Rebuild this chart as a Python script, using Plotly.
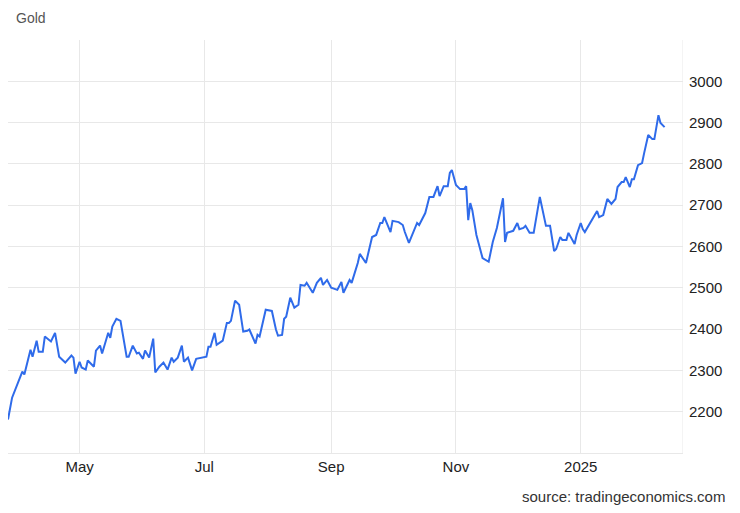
import plotly.graph_objects as go

dates = [
    "2024-03-27", "2024-03-29", "2024-04-03", "2024-04-04", "2024-04-07", "2024-04-08",
    "2024-04-10", "2024-04-11", "2024-04-13", "2024-04-14", "2024-04-17", "2024-04-19",
    "2024-04-21", "2024-04-24", "2024-04-27", "2024-04-28", "2024-04-29",
    "2024-05-01", "2024-05-02", "2024-05-04", "2024-05-05", "2024-05-08", "2024-05-09",
    "2024-05-11", "2024-05-12", "2024-05-15", "2024-05-16", "2024-05-17", "2024-05-19",
    "2024-05-21", "2024-05-24", "2024-05-25", "2024-05-27", "2024-05-29", "2024-05-30",
    "2024-06-01", "2024-06-02", "2024-06-04", "2024-06-06", "2024-06-07", "2024-06-09",
    "2024-06-11", "2024-06-13", "2024-06-15", "2024-06-16", "2024-06-18", "2024-06-20",
    "2024-06-21", "2024-06-23", "2024-06-25", "2024-06-27", "2024-06-30",
    "2024-07-02", "2024-07-03", "2024-07-04", "2024-07-06", "2024-07-07", "2024-07-10",
    "2024-07-12", "2024-07-13", "2024-07-14", "2024-07-16", "2024-07-18", "2024-07-20",
    "2024-07-22", "2024-07-23", "2024-07-26", "2024-07-27", "2024-07-28", "2024-07-31",
    "2024-08-03", "2024-08-05", "2024-08-06", "2024-08-08", "2024-08-09", "2024-08-10",
    "2024-08-12", "2024-08-14", "2024-08-16", "2024-08-17", "2024-08-19", "2024-08-20",
    "2024-08-23", "2024-08-25", "2024-08-27", "2024-08-28", "2024-08-30",
    "2024-09-01", "2024-09-04", "2024-09-06", "2024-09-07", "2024-09-10", "2024-09-11",
    "2024-09-14", "2024-09-15", "2024-09-18", "2024-09-21", "2024-09-23", "2024-09-25",
    "2024-09-26", "2024-09-27", "2024-09-30",
    "2024-10-01", "2024-10-04", "2024-10-06", "2024-10-07", "2024-10-09", "2024-10-13",
    "2024-10-14", "2024-10-17", "2024-10-19", "2024-10-21", "2024-10-23", "2024-10-24",
    "2024-10-26", "2024-10-28", "2024-10-29", "2024-10-30",
    "2024-11-01", "2024-11-03", "2024-11-05", "2024-11-06", "2024-11-07", "2024-11-08",
    "2024-11-09", "2024-11-11", "2024-11-14", "2024-11-17", "2024-11-19", "2024-11-21",
    "2024-11-22", "2024-11-24", "2024-11-25", "2024-11-26", "2024-11-29",
    "2024-12-01", "2024-12-02", "2024-12-04", "2024-12-05", "2024-12-07", "2024-12-09",
    "2024-12-11", "2024-12-12", "2024-12-15", "2024-12-17", "2024-12-19", "2024-12-20",
    "2024-12-22", "2024-12-23", "2024-12-25", "2024-12-26", "2024-12-29", "2024-12-30",
    "2025-01-01", "2025-01-02", "2025-01-03", "2025-01-05", "2025-01-07", "2025-01-09",
    "2025-01-10", "2025-01-12", "2025-01-14", "2025-01-16", "2025-01-18", "2025-01-19",
    "2025-01-21", "2025-01-22", "2025-01-23", "2025-01-25", "2025-01-26", "2025-01-27",
    "2025-01-29", "2025-01-31",
    "2025-02-01", "2025-02-03", "2025-02-05", "2025-02-06", "2025-02-08", "2025-02-09",
    "2025-02-11",
]

gold = [
    2181, 2234, 2297, 2290, 2350, 2333,
    2372, 2345, 2345, 2382, 2370, 2391,
    2333, 2319, 2336, 2331, 2292,
    2321, 2307, 2302, 2324, 2309, 2348,
    2360, 2341, 2391, 2379, 2406, 2425,
    2420, 2333, 2333, 2360, 2341, 2343,
    2328, 2348, 2331, 2377, 2295, 2309,
    2319, 2302, 2331, 2321, 2331, 2360,
    2321, 2331, 2300, 2328, 2331,
    2333, 2357, 2357, 2391, 2362, 2372,
    2415, 2415, 2420, 2469, 2459, 2394,
    2396, 2399, 2365, 2386, 2382, 2447,
    2444, 2399, 2384, 2386, 2425, 2430,
    2476, 2452, 2459, 2507, 2505, 2512,
    2488, 2512, 2524, 2507, 2519,
    2500, 2495, 2514, 2488, 2519, 2512,
    2560, 2582, 2560, 2623, 2628, 2657,
    2657, 2671, 2635,
    2662, 2659, 2652, 2635, 2609, 2657,
    2652, 2681, 2720, 2720, 2746, 2722,
    2746, 2746, 2778, 2785,
    2749, 2739, 2739, 2746, 2664, 2705,
    2688, 2628, 2572, 2563, 2611, 2645,
    2669, 2717, 2611, 2633, 2638,
    2657, 2642, 2645, 2650, 2633, 2633,
    2688, 2720, 2650, 2650, 2589, 2594,
    2623, 2616, 2616, 2633, 2606, 2628,
    2657, 2642, 2635, 2652, 2667, 2686,
    2671, 2676, 2715, 2703, 2715, 2744,
    2756, 2756, 2768, 2744, 2763, 2763,
    2797, 2802,
    2826, 2870, 2860, 2860, 2918, 2899,
    2889,
]

tick_vals = ["2024-05-01", "2024-07-01", "2024-09-01", "2024-11-01", "2025-01-01"]
tick_text = ["May", "Jul", "Sep", "Nov", "2025"]
y_ticks = [2200, 2300, 2400, 2500, 2600, 2700, 2800, 2900, 3000]

fig = go.Figure()
fig.add_trace(go.Scatter(x=dates, y=gold, mode="lines",
                         line=dict(color="#2f6bea", width=2), hoverinfo="skip"))

grid = "#e8e8e8"
# page body has an 8px margin, so the figure is 16px smaller than the window
fig.update_layout(
    width=724, height=497,
    margin=dict(l=0, r=49, t=32, b=52, autoexpand=False),
    paper_bgcolor="white", plot_bgcolor="white",
    showlegend=False,
    font=dict(family="Liberation Sans, Arial, sans-serif", size=15, color="#222"),
    xaxis=dict(range=["2024-03-27", "2025-02-20"], tickvals=tick_vals, ticktext=tick_text,
               showgrid=True, gridcolor=grid, zeroline=False, automargin=False,
               showline=True, linecolor=grid, ticks="",
               tickfont=dict(size=15, color="#222")),
    yaxis=dict(range=[2100, 3100], side="right", tickvals=y_ticks, automargin=False,
               showgrid=True, gridcolor=grid, zeroline=False, ticks="",
               tickfont=dict(size=15, color="#222"), ticklabelstandoff=5),
    annotations=[
        dict(text="Gold", x=0.009, y=1.053, xref="paper", yref="paper", showarrow=False,
             xanchor="left", yanchor="middle", font=dict(size=14, color="#555")),
        dict(text="source: tradingeconomics.com", xref="paper", yref="paper",
             x=1.065, y=-0.105, showarrow=False, xanchor="right", yanchor="middle",
             font=dict(size=15, color="#333")),
    ],
)

# right-hand vertical border line
fig.add_vline(x="2025-02-20", line=dict(color=grid, width=1))

fig.write_html("out.html")
